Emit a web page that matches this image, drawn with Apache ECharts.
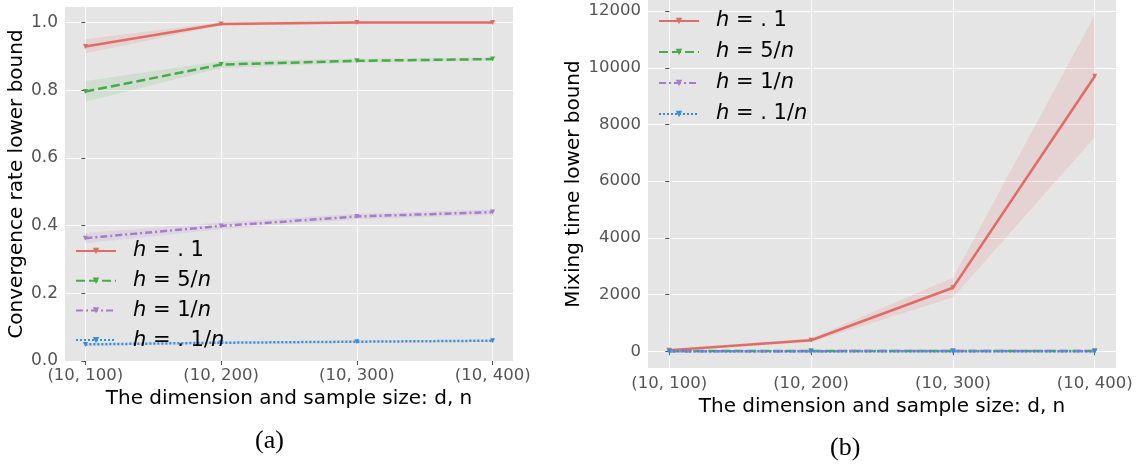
<!DOCTYPE html>
<html>
<head>
<meta charset="utf-8">
<script src="https://cdn.jsdelivr.net/npm/echarts@6/dist/echarts.min.js"></script>
<style>
  html, body { margin: 0; padding: 0; background: #fff; }
  #chart { width: 1147px; height: 470px; }
</style>
</head>
<body>
<div id="chart"></div>
<script>
// categories on x (d, n)
const categories = ['(10, 100)', '(10, 200)', '(10, 300)', '(10, 400)'];
const seriesNames = ['h = . 1', 'h = 5/n', 'h = 1/n', 'h = . 1/n'];

// (a) convergence rate lower bound: mean, lower, upper
const rateH1 = [0.929, 0.996, 1.000, 1.000];
const rateH1Low = [0.909, 0.991, 0.997, 0.997];
const rateH1High = [0.951, 1.001, 1.003, 1.003];
const rate5n = [0.796, 0.876, 0.887, 0.892];
const rate5nLow = [0.766, 0.866, 0.881, 0.887];
const rate5nHigh = [0.827, 0.886, 0.893, 0.897];
const rate1n = [0.363, 0.399, 0.427, 0.440];
const rate1nLow = [0.348, 0.389, 0.419, 0.432];
const rate1nHigh = [0.378, 0.409, 0.435, 0.448];
const rate01n = [0.049, 0.054, 0.057, 0.060];
const rate01nLow = [0.046, 0.051, 0.054, 0.057];
const rate01nHigh = [0.052, 0.057, 0.060, 0.063];

// (b) mixing time lower bound: mean, lower, upper
const mixH1 = [40, 390, 2240, 9700];
const mixH1Low = [20, 330, 1900, 7550];
const mixH1High = [60, 450, 2590, 11850];
const mix5n = [8, 10, 12, 14];
const mix1n = [4, 5, 6, 7];
const mix01n = [1, 1, 1, 1];

const rateTicks = [0, 0.2, 0.4, 0.6, 0.8, 1.0];
const mixTicks = [0, 2000, 4000, 6000, 8000, 10000, 12000];
const catTicks = [0, 1, 2, 3];

const colors = ['#E06D65', '#46AC48', '#A67DCB', '#3A8DDB'];
const bandColors = ['rgba(224,109,101,0.15)', 'rgba(70,172,72,0.13)', 'rgba(166,125,203,0.15)', 'rgba(58,141,219,0.15)'];
const dashes = ['solid', [9, 4], [7, 3, 2, 3], [2, 2]];

const FONT = 'DejaVu Sans';
let chart = echarts.init(document.getElementById('chart'));

function pts(vals) {
  return vals.map((v, i) => [i, v]);
}

function lineSeries(k, vals, grid) {
  return {
    name: seriesNames[k],
    type: 'line',
    xAxisIndex: grid,
    yAxisIndex: grid,
    data: pts(vals),
    symbol: 'triangle',
    symbolRotate: 180,
    symbolSize: 5,
    color: colors[k],
    lineStyle: { width: 2.5, color: colors[k], type: dashes[k] },
    itemStyle: { color: colors[k] },
    z: 3
  };
}

function bandSeries(k, low, high, grid) {
  return {
    type: 'custom',
    xAxisIndex: grid,
    yAxisIndex: grid,
    data: [[0, low[0]]],
    silent: true,
    z: 1,
    renderItem: function (params, api) {
      let points = [];
      high.forEach((v, i) => points.push(api.coord([i, v])));
      for (let i = low.length - 1; i >= 0; i--) points.push(api.coord([i, low[i]]));
      return {
        type: 'polygon',
        shape: { points: points },
        style: { fill: bandColors[k] }
      };
    }
  };
}

function catAxis(grid, labelMargin) {
  return {
    type: 'value',
    gridIndex: grid,
    min: -0.15,
    max: 3.15,
    name: 'The dimension and sample size: d, n',
    nameLocation: 'middle',
    nameGap: 24,
    nameTextStyle: { fontFamily: FONT, fontSize: 20, color: '#000' },
    axisLine: { show: false },
    axisTick: { show: true, length: 4, customValues: catTicks, lineStyle: { color: '#555' } },
    axisLabel: {
      customValues: catTicks,
      margin: labelMargin,
      fontFamily: FONT, fontSize: 16.5, color: '#555',
      formatter: v => categories[Math.round(v)]
    },
    splitLine: { show: true, lineStyle: { color: '#fff', width: 1 } }
  };
}

function legendCfg(left, top, gap) {
  return {
    data: seriesNames,
    orient: 'vertical',
    left: left,
    top: top,
    padding: 0,
    itemWidth: 40,
    itemHeight: 8,
    itemGap: gap,
    backgroundColor: 'transparent',
    textStyle: {
      fontFamily: FONT, fontSize: 21, color: '#000', lineHeight: 22,
      padding: [0, 0, 0, 12],
      rich: { i: { fontFamily: FONT, fontStyle: 'italic', fontSize: 21, color: '#000' } }
    },
    formatter: name => name.replace('h', '{i|h}').replace(/n$/, '{i|n}')
  };
}

let option = {
  animation: false,
  backgroundColor: '#fff',
  grid: [
    { left: 65, top: 7, width: 448, height: 354, show: true, backgroundColor: '#E5E5E5', borderWidth: 0 },
    { left: 648, top: 0, width: 468, height: 368, show: true, backgroundColor: '#E5E5E5', borderWidth: 0 }
  ],
  legend: [legendCfg(75, 240, 7.7), legendCfg(658, 10, 9)],
  xAxis: [catAxis(0, 6), catAxis(1, 7)],
  yAxis: [
    {
      type: 'value', gridIndex: 0, min: 0, max: 1.046,
      name: 'Convergence rate lower bound',
      nameLocation: 'middle', nameGap: 38,
      nameTextStyle: { fontFamily: FONT, fontSize: 20, color: '#000' },
      axisLine: { show: false },
      axisTick: { show: true, length: 4, customValues: rateTicks, lineStyle: { color: '#555' } },
      axisLabel: { customValues: rateTicks, margin: 7, fontFamily: FONT, fontSize: 17, color: '#555', formatter: v => v.toFixed(1) },
      splitLine: { show: true, lineStyle: { color: '#fff', width: 1 } }
    },
    {
      type: 'value', gridIndex: 1, min: -590, max: 12390,
      name: 'Mixing time lower bound',
      nameLocation: 'middle', nameGap: 64,
      nameTextStyle: { fontFamily: FONT, fontSize: 20, color: '#000' },
      axisLine: { show: false },
      axisTick: { show: true, length: 4, customValues: mixTicks, lineStyle: { color: '#555' } },
      axisLabel: { customValues: mixTicks, margin: 7, fontFamily: FONT, fontSize: 16.5, color: '#555', formatter: v => String(Math.round(v)) },
      splitLine: { show: true, lineStyle: { color: '#fff', width: 1 } }
    }
  ],
  graphic: [
    { type: 'text', left: 255, top: 428, style: { text: '(a)', font: '26px "Liberation Serif"', fill: '#000' } },
    { type: 'text', left: 830, top: 435, style: { text: '(b)', font: '26px "Liberation Serif"', fill: '#000' } }
  ],
  series: [
    bandSeries(0, rateH1Low, rateH1High, 0),
    bandSeries(1, rate5nLow, rate5nHigh, 0),
    bandSeries(2, rate1nLow, rate1nHigh, 0),
    bandSeries(3, rate01nLow, rate01nHigh, 0),
    lineSeries(0, rateH1, 0),
    lineSeries(1, rate5n, 0),
    lineSeries(2, rate1n, 0),
    lineSeries(3, rate01n, 0),
    bandSeries(0, mixH1Low, mixH1High, 1),
    lineSeries(0, mixH1, 1),
    lineSeries(1, mix5n, 1),
    lineSeries(2, mix1n, 1),
    lineSeries(3, mix01n, 1)
  ]
};
chart.setOption(option);
</script>
</body>
</html>
